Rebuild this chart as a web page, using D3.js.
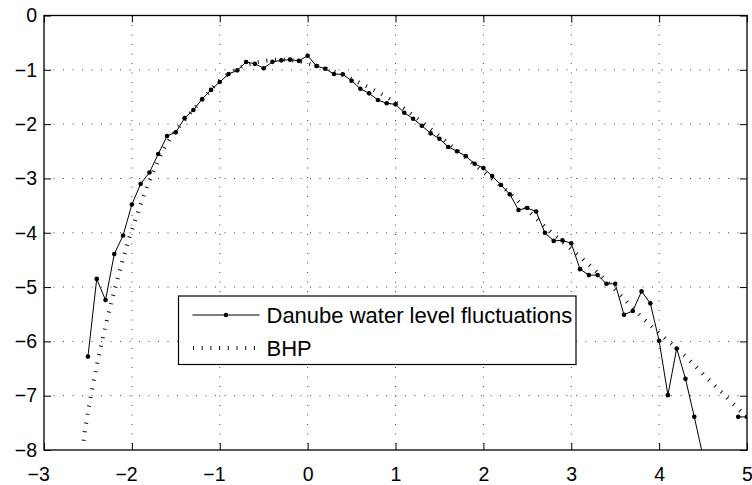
<!DOCTYPE html>
<html>
<head>
<meta charset="utf-8">
<script src="https://cdn.jsdelivr.net/npm/d3@7"></script>
<style>
  body { margin: 0; background: #fff; }
  svg text { font-family: "Liberation Sans", Arial, Helvetica, sans-serif; fill: #000; }
</style>
</head>
<body>
<div id="chart"></div>
<script>
// Danube water level fluctuations, one point per bin (null = empty bin)
var danubeX = [-2.5, -2.4, -2.3, -2.2, -2.1, -2.0, -1.9, -1.8, -1.7, -1.6,
  -1.5, -1.4, -1.3, -1.2, -1.1, -1.0, -0.9, -0.8, -0.7, -0.6,
  -0.5, -0.4, -0.3, -0.2, -0.1, 0.0, 0.1, 0.2, 0.3, 0.4,
  0.5, 0.6, 0.7, 0.8, 0.9, 1.0, 1.1, 1.2, 1.3, 1.4,
  1.5, 1.6, 1.7, 1.8, 1.9, 2.0, 2.1, 2.2, 2.3, 2.4,
  2.5, 2.6, 2.7, 2.8, 2.9, 3.0, 3.1, 3.2, 3.3, 3.4,
  3.5, 3.6, 3.7, 3.8, 3.9, 4.0, 4.1, 4.2, 4.3, 4.4,
  4.5, 4.6, 4.7, 4.8, 4.9, 5.0];
var danubeY = [-6.28, -4.85, -5.24, -4.39, -4.05, -3.48, -3.10, -2.89, -2.55, -2.22,
  -2.15, -1.89, -1.74, -1.54, -1.37, -1.225, -1.077, -1.01, -0.856, -0.89,
  -0.97, -0.853, -0.826, -0.813, -0.835, -0.74, -0.93, -0.98, -1.078, -1.083,
  -1.20, -1.348, -1.433, -1.556, -1.617, -1.636, -1.79, -1.90, -2.03, -2.17,
  -2.27, -2.42, -2.50, -2.59, -2.73, -2.81, -2.956, -3.12, -3.29, -3.58,
  -3.545, -3.61, -4.0, -4.15, -4.14, -4.195, -4.67, -4.78, -4.78, -4.94,
  -4.94, -5.51, -5.44, -5.08, -5.30, -5.99, -6.99, -6.13, -6.69, -7.39,
  -8.12, null, null, null, -7.39, -7.39];

// BHP fitted curve
var bhpX = [-2.55, -2.5, -2.4, -2.3, -2.2, -2.1, -2.0, -1.8, -1.6, -1.4,
  -1.2, -1.0, -0.8, -0.6, -0.4, -0.2, 0.0, 0.25, 0.5, 0.75,
  1.0, 1.25, 1.5, 1.75, 2.0, 2.25, 2.5, 2.75, 3.0, 3.25,
  3.5, 3.75, 4.0, 4.25, 4.5, 4.75, 5.0];
var bhpY = [-7.83, -7.3, -6.45, -5.72, -5.07, -4.48, -3.95, -3.05, -2.35, -1.92,
  -1.55, -1.2, -0.98, -0.87, -0.82, -0.82, -0.88, -1.0, -1.17, -1.37,
  -1.6, -1.9, -2.22, -2.55, -2.88, -3.2, -3.58, -3.96, -4.3, -4.66,
  -5.05, -5.47, -5.85, -6.2, -6.6, -7.0, -7.4];

var xTicks = [-3, -2, -1, 0, 1, 2, 3, 4, 5];
var yTicks = [0, -1, -2, -3, -4, -5, -6, -7, -8];
var legendLabels = ["Danube water level fluctuations", "BHP"];

var svgWidth = 752;
var svgHeight = 485;
var margin = { top: 15.5, right: 5, bottom: 35, left: 44 };
var width = 703;
var height = 434.5;

var svg = d3.select("#chart")
  .append("svg")
  .attr("width", svgWidth)
  .attr("height", svgHeight);

var chartGroup = svg.append("g")
  .attr("transform", `translate(${margin.left}, ${margin.top})`);

var xScale = d3.scaleLinear().domain([-3, 5]).range([0, width]);
var yScale = d3.scaleLinear().domain([-8, 0]).range([height, 0]);

// dotted grid (inner lines only, edges are the box)
chartGroup.append("g").selectAll("line")
  .data(xTicks.slice(1, -1))
  .enter().append("line")
  .attr("x1", d => xScale(d)).attr("x2", d => xScale(d))
  .attr("y1", 0).attr("y2", height)
  .attr("stroke", "#444").attr("stroke-width", 1)
  .attr("stroke-dasharray", "1,8.5");

chartGroup.append("g").selectAll("line")
  .data(yTicks.slice(1, -1))
  .enter().append("line")
  .attr("y1", d => yScale(d)).attr("y2", d => yScale(d))
  .attr("x1", 0).attr("x2", width)
  .attr("stroke", "#444").attr("stroke-width", 1)
  .attr("stroke-dasharray", "1,8.5");

chartGroup.append("clipPath").attr("id", "plotclip")
  .append("rect").attr("width", width).attr("height", height);

var plot = chartGroup.append("g").attr("clip-path", "url(#plotclip)");

var danube = danubeX.map((x, i) => ({ x: x, y: danubeY[i] }));
var bhp = bhpX.map((x, i) => ({ x: x, y: bhpY[i] }));

var danubeLine = d3.line()
  .defined(d => d.y !== null)
  .x(d => xScale(d.x))
  .y(d => yScale(d.y));

plot.append("path")
  .datum(danube)
  .attr("d", danubeLine)
  .attr("fill", "none")
  .attr("stroke", "#000")
  .attr("stroke-width", 1);

plot.selectAll("circle")
  .data(danube.filter(d => d.y !== null))
  .enter().append("circle")
  .attr("cx", d => xScale(d.x))
  .attr("cy", d => yScale(d.y))
  .attr("r", 2.3)
  .attr("fill", "#000");

var bhpLine = d3.line()
  .curve(d3.curveCatmullRom)
  .x(d => xScale(d.x))
  .y(d => yScale(d.y));

// MATLAB-like dotted style: short marks across the curve
plot.append("path")
  .datum(bhp)
  .attr("d", bhpLine)
  .attr("fill", "none")
  .attr("stroke", "#111")
  .attr("stroke-width", 4)
  .attr("stroke-dasharray", "1,7.7");

// axes, ticks pointing inward
var bottomAxis = d3.axisBottom(xScale).tickValues(xTicks)
  .tickSize(-7).tickSizeOuter(0).tickPadding(17).tickFormat(d3.format("d"));
var leftAxis = d3.axisLeft(yScale).tickValues(yTicks)
  .tickSize(-7).tickSizeOuter(0).tickPadding(7).tickFormat(d3.format("d"));

var xAxisG = chartGroup.append("g")
  .attr("transform", `translate(0, ${height})`)
  .call(bottomAxis);
var yAxisG = chartGroup.append("g").call(leftAxis);

chartGroup.append("g")
  .call(d3.axisTop(xScale).tickValues(xTicks).tickSize(-7).tickSizeOuter(0).tickFormat(""));
chartGroup.append("g")
  .attr("transform", `translate(${width}, 0)`)
  .call(d3.axisRight(yScale).tickValues(yTicks).tickSize(-7).tickSizeOuter(0).tickFormat(""));

chartGroup.selectAll(".domain").remove();
chartGroup.selectAll(".tick line").attr("stroke", "#000").attr("stroke-width", 1);

xAxisG.selectAll("text")
  .style("font-size", "19.5px")
  .attr("dx", d => d < 0 ? "-0.3em" : 0);
yAxisG.selectAll("text")
  .style("font-size", "19.5px");

chartGroup.append("rect")
  .attr("width", width).attr("height", height)
  .attr("fill", "none").attr("stroke", "#000").attr("stroke-width", 1.3);

// legend
var legend = svg.append("g").attr("transform", "translate(178.5, 296)");
legend.append("rect")
  .attr("width", 397.5).attr("height", 68.5)
  .attr("fill", "#fff").attr("stroke", "#000").attr("stroke-width", 1.2);

var rowY = [19, 52];
legend.append("line")
  .attr("x1", 14).attr("x2", 81).attr("y1", rowY[0]).attr("y2", rowY[0])
  .attr("stroke", "#000").attr("stroke-width", 1);
legend.append("circle")
  .attr("cx", 47.5).attr("cy", rowY[0]).attr("r", 2.3).attr("fill", "#000");
legend.append("line")
  .attr("x1", 14.5).attr("x2", 81).attr("y1", rowY[1]).attr("y2", rowY[1])
  .attr("stroke", "#111").attr("stroke-width", 4)
  .attr("stroke-dasharray", "1,7.7");

legend.selectAll("text.lab")
  .data(legendLabels)
  .enter().append("text")
  .attr("class", "lab")
  .attr("x", 88)
  .attr("y", (d, i) => rowY[i])
  .attr("dy", "0.36em")
  .style("font-size", "22px")
  .text(d => d);
</script>
</body>
</html>
